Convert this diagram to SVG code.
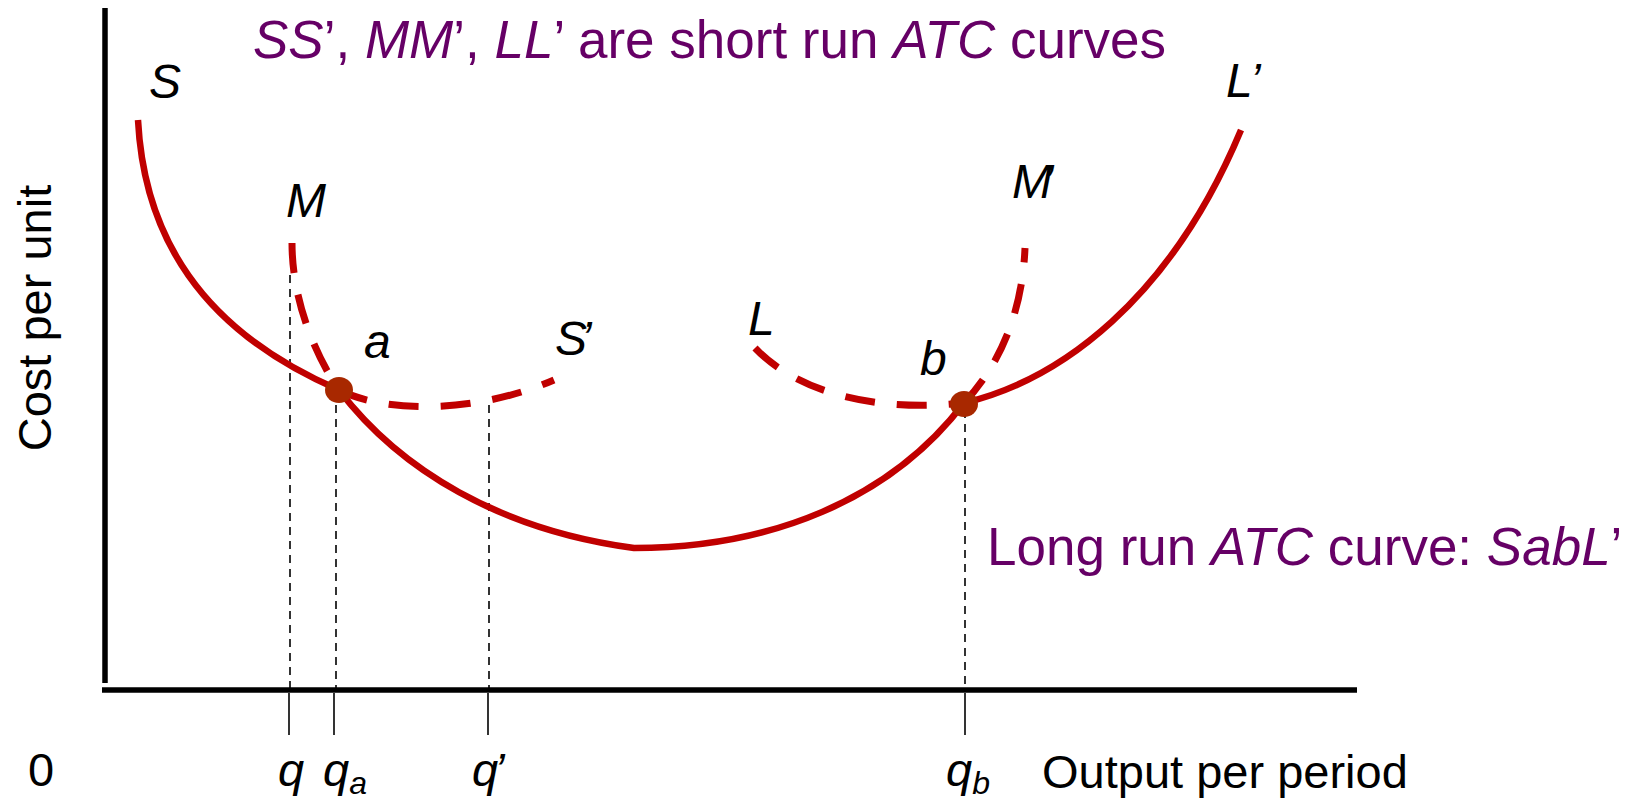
<svg xmlns="http://www.w3.org/2000/svg" width="1631" height="799" viewBox="0 0 1631 799">
<style>
text{font-family:"Liberation Sans",Arial,sans-serif;}
.lbl{font-size:48px;fill:#000;font-style:italic;}
.ax{font-size:47px;fill:#000;}
.pur{font-size:53px;fill:#660066;}
.it{font-style:italic;}
.solid{fill:none;stroke:#C00000;stroke-width:6.5;stroke-linecap:butt;}
.dash{fill:none;stroke:#C00000;stroke-width:7;stroke-dasharray:30 22;}
.guide{fill:none;stroke:#000;stroke-width:1.6;stroke-dasharray:8 6;}
.tick{stroke:#000;stroke-width:1.6;}
.axis{stroke:#000;stroke-width:5.5;fill:none;}
.dot{fill:#A82800;}
</style>
<rect width="1631" height="799" fill="#fff"/>
<g id="axes">
<line class="axis" x1="105" y1="8" x2="105" y2="683"/>
<line class="axis" x1="102" y1="690" x2="1357" y2="690"/>
</g>
<g id="guides">
<line class="guide" x1="290" y1="275" x2="290" y2="688"/>
<line class="guide" x1="336" y1="405" x2="336" y2="688"/>
<line class="guide" x1="489" y1="405" x2="489" y2="688"/>
<line class="guide" x1="965" y1="410" x2="965" y2="688"/>
<line class="tick" x1="289" y1="693" x2="289" y2="735"/>
<line class="tick" x1="334" y1="693" x2="334" y2="735"/>
<line class="tick" x1="488" y1="693" x2="488" y2="735"/>
<line class="tick" x1="965" y1="693" x2="965" y2="735"/>
</g>
<g id="connectors">
<path id="lrac" class="solid" d="M138,120 C144,235 200,330 339,390 C400,470 500,530 634,548 C770,548 890,500 964,403 C1060,380 1170,300 1241,130"/>
<path id="ss" class="dash" d="M339,390 C390,415 480,412 554,380"/>
<path id="mm1" class="dash" d="M292,243 C292,300 315,355 339,390"/>
<path id="mm2" class="dash" d="M964,403 C995,370 1022,320 1025,248"/>
<path id="ll" class="dash" d="M755,348 C800,395 880,412 964,403"/>
</g>
<g id="point-a"><ellipse class="dot" cx="339" cy="390" rx="14" ry="13"/></g>
<g id="point-b"><ellipse class="dot" cx="964" cy="404" rx="14" ry="13"/></g>
<g id="labels">
<text class="lbl" x="149" y="98">S</text>
<text class="lbl" x="286" y="217">M</text>
<text class="lbl" x="364" y="358">a</text>
<text class="lbl" x="555" y="355" letter-spacing="-6">S’</text>
<text class="lbl" x="748" y="335">L</text>
<text class="lbl" x="920" y="375">b</text>
<text class="lbl" x="1012" y="198" letter-spacing="-9">M’</text>
<text class="lbl" x="1226" y="97">L’</text>
</g>
<g id="title">
<text class="pur" x="253" y="58"><tspan class="it">SS</tspan>’, <tspan class="it">MM</tspan>’, <tspan class="it">LL</tspan>’ are short run <tspan class="it">ATC</tspan> curves</text>
</g>
<g id="lrac-label">
<text class="pur" x="987" y="565">Long run <tspan class="it">ATC</tspan> curve: <tspan class="it">SabL</tspan>’</text>
</g>
<g id="axis-labels">
<text class="ax" font-size="48" transform="translate(51,318) rotate(-90)" text-anchor="middle">Cost per unit</text>
<text class="ax" x="28" y="786">0</text>
<text class="ax" x="1042" y="788">Output per period</text>
<text class="ax it" x="278" y="786">q</text>
<text class="ax it" x="323" y="786">q<tspan font-size="32" dy="8">a</tspan></text>
<text class="ax it" x="472" y="786" letter-spacing="-4">q’</text>
<text class="ax it" x="946" y="786">q<tspan font-size="32" dy="8">b</tspan></text>
</g>
</svg>
